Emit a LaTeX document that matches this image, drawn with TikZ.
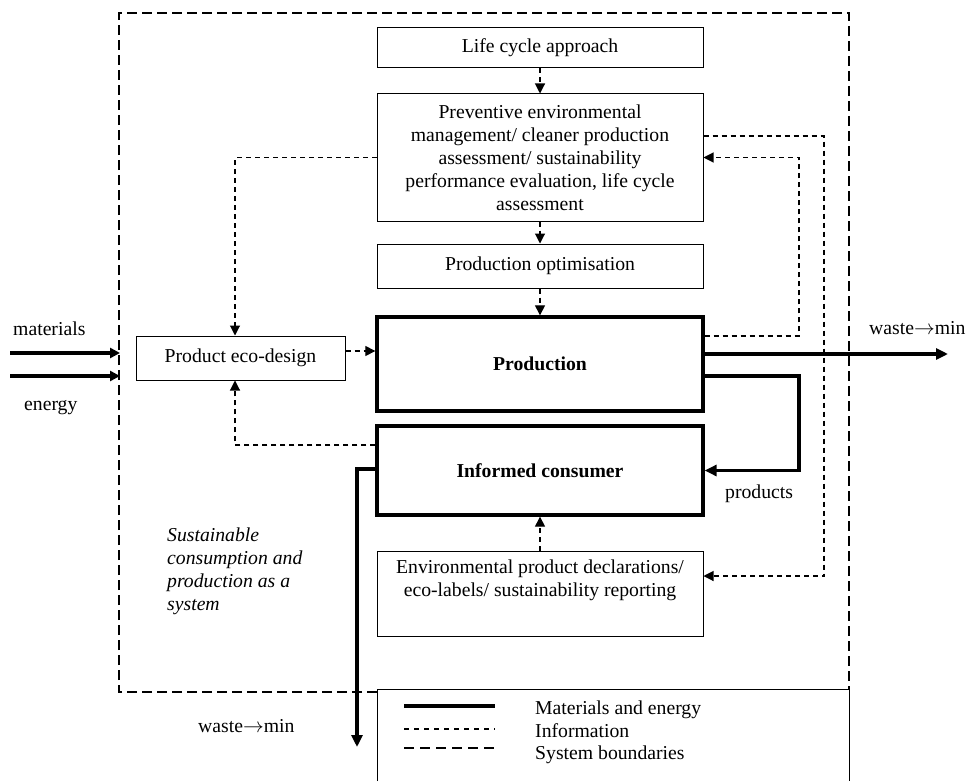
\documentclass[tikz,border=0pt]{standalone}
\usepackage{fontspec}
\setmainfont{Liberation Serif}
\usetikzlibrary{arrows.meta}
\begin{document}
\begin{tikzpicture}[x=1pt,y=-1pt,
 box/.style={draw, line width=1pt, minimum width=326pt, inner sep=0pt, align=center, font=\fontsize{19.7}{23}\selectfont},
 thickbox/.style={box, line width=3.3pt, font=\fontsize{19.7}{23}\selectfont\bfseries},
 info/.style={line width=1.1pt, dash pattern=on 5pt off 4pt, -{Triangle[length=10pt,width=10pt]}},
 flow/.style={line width=3.8pt, line join=miter, -{Triangle[length=12pt,width=11pt]}},
 bound/.style={line width=1.1pt, dash pattern=on 10pt off 5pt},
 lbl/.style={font=\fontsize{19.7}{23}\selectfont, inner sep=0pt, anchor=base west}]
\useasboundingbox (0,0) rectangle (968,781);

% system boundary and legend frame
\draw[bound] (377,692) -- (119,692) -- (119,13) -- (849,13) -- (849,689);
\draw[line width=1pt] (377,781) -- (377,689) -- (849,689) -- (849,781);

% boxes
\node[box, minimum height=40pt] (life) at (540,48) {Life cycle approach};
\node[box, minimum height=127pt] (prev) at (540,157.5) {Preventive environmental\\ management/ cleaner production\\ assessment/ sustainability\\ performance evaluation, life cycle\\ assessment};
\node[box, minimum height=44pt] (opt) at (540,266) {Production optimisation};
\node[thickbox, minimum height=94pt] (prod) at (540,364) {Production};
\node[thickbox, minimum height=89pt] (cons) at (540,470.5) {Informed consumer};
\node[box, minimum height=85pt] (env) at (540,593.5) {Environmental product declarations/\\ eco-labels/ sustainability reporting\\ \strut};
\node[box, minimum width=209pt, minimum height=44pt] (eco) at (240.5,358) {Product eco-design};

% helper coordinates
\coordinate (xL) at (235,0);
\coordinate (xR1) at (824,0);
\coordinate (xR2) at (799,0);
\coordinate (prevOut) at ([yshift=21.5pt]prev.east);
\coordinate (envIn) at ([yshift=17.5pt]env.east);
\coordinate (prodOut1) at ([yshift=28pt]prod.east);
\coordinate (prodOut2) at ([yshift=10pt]prod.east);
\coordinate (prodOut3) at ([yshift=-12pt]prod.east);
\coordinate (consOut) at ([yshift=1.5pt]cons.west);
\coordinate (wasteR) at (948,354);
\coordinate (wasteD) at (357,747);
\coordinate (matS) at (10,353);
\coordinate (matE) at (120,353);
\coordinate (enS) at (10,376);
\coordinate (enE) at (120,376);

% information flows
\draw[info] (life) -- (prev);
\draw[info] (prev) -- (opt);
\draw[info] (opt) -- (prod);
\draw[info] (env) -- (cons);
\draw[info] (prev.west) -| (xL |- eco.north);
\draw[info] ([yshift=25.5pt]cons.west) -| (xL |- eco.south);
\draw[info] ([yshift=7pt]eco.east) -- ([yshift=7pt]eco.east -| prod.west);
\draw[info] (prevOut) -| (xR1 |- envIn) -- (envIn);
\draw[info] (prodOut1) -| (xR2 |- prev.east) -- (prev.east);

% material flows
\draw[flow] (prodOut2) -- (wasteR);
\draw[flow] (prodOut3) -| (xR2 |- cons.east) -- (cons.east);
\draw[flow] (consOut) -| (wasteD);
\draw[flow, -{Triangle[length=10pt,width=10pt]}] (matS) -- (matE);
\draw[flow, -{Triangle[length=10pt,width=10pt]}] (enS) -- (enE);

% labels
\node[lbl] (tmat) at (13,335) {materials};
\node[lbl] (ten) at (24,410) {energy};
\node[lbl] (twr) at (869,334) {waste$\rightarrow$min};
\node[lbl] (tprod) at (725,498) {products};
\node[lbl] (twd) at (198,732) {waste$\rightarrow$min};
\node[lbl, anchor=north west, align=left, font=\fontsize{19.7}{23}\selectfont\itshape] (tsys) at (167,528) {Sustainable\\ consumption and\\ production as a\\ system};

% legend
\coordinate (l1a) at (404,706); \coordinate (l1b) at (495,706);
\coordinate (l2a) at (404,729); \coordinate (l2b) at (495,729);
\coordinate (l3a) at (404,748); \coordinate (l3b) at (495,748);
\draw[line width=3.8pt] (l1a) -- (l1b);
\draw[line width=1.1pt, dash pattern=on 5pt off 5pt] (l2a) -- (l2b);
\draw[line width=1.1pt, dash pattern=on 10pt off 6pt] (l3a) -- (l3b);
\node[lbl, anchor=north west, align=left, font=\fontsize{19.7}{22.5}\selectfont] (tleg) at (535,701) {Materials and energy\\ Information\\ System boundaries};
\end{tikzpicture}
\end{document}
